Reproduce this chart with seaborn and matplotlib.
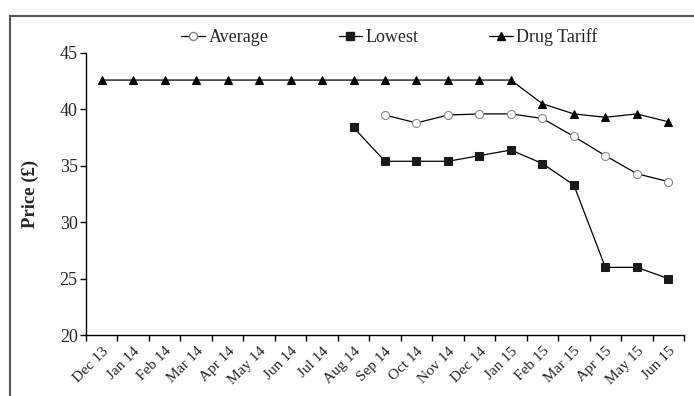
import numpy as np
import pandas as pd
import seaborn as sns
import matplotlib.pyplot as plt
from matplotlib.patches import Rectangle
from matplotlib.lines import Line2D

# Data
months = ["Dec 13", "Jan 14", "Feb 14", "Mar 14", "Apr 14", "May 14", "Jun 14",
          "Jul 14", "Aug 14", "Sep 14", "Oct 14", "Nov 14", "Dec 14", "Jan 15",
          "Feb 15", "Mar 15", "Apr 15", "May 15", "Jun 15"]
drug_tariff = [42.6] * 14 + [40.5, 39.6, 39.3, 39.6, 38.9]
average = [np.nan] * 9 + [39.5, 38.8, 39.5, 39.6, 39.6, 39.2, 37.6, 35.9, 34.3, 33.6]
lowest = [np.nan] * 8 + [38.4, 35.4, 35.4, 35.4, 35.9, 36.4, 35.2, 33.3, 26.0, 26.0, 25.0]

df = pd.DataFrame({"pos": np.arange(len(months)), "month": months,
                   "Drug Tariff": drug_tariff, "Average": average, "Lowest": lowest})

sns.set_style("ticks")
plt.rcParams["font.family"] = ["Liberation Serif", "DejaVu Serif"]

fig = plt.figure(figsize=(6.94, 3.96), dpi=100)
ax = fig.add_axes([86 / 694, 1 - 335 / 396, 598 / 694, 282 / 396])

# Outer frame (cropped at the right and bottom edges)
fig.patches.append(Rectangle((10 / 694, -0.1), 1.2, 1 - 16 / 396 + 0.1,
                             transform=fig.transFigure, fill=False,
                             edgecolor="#555555", linewidth=1.5))

sq_col = "#1a1a1a"
sns.lineplot(data=df, x="pos", y="Drug Tariff", ax=ax, color="black", lw=0.9,
             marker="^", markersize=6, markerfacecolor="black",
             markeredgecolor="black", sort=False)
sns.lineplot(data=df, x="pos", y="Average", ax=ax, color="black", lw=0.9,
             marker="o", markersize=5.8, markerfacecolor="white",
             markeredgecolor="#888888", markeredgewidth=0.8, sort=False)
sns.lineplot(data=df, x="pos", y="Lowest", ax=ax, color="black", lw=0.9,
             marker="s", markersize=5.6, markerfacecolor=sq_col,
             markeredgecolor=sq_col, sort=False)

ax.set_xlim(-0.5, len(months) - 0.5)
ax.set_ylim(20, 45)
ax.set_yticks([20, 25, 30, 35, 40, 45])
ax.set_xticks(df["pos"])
ax.set_xticklabels(months, rotation=45, ha="right", rotation_mode="anchor",
                   fontsize=11)
ax.set_xticks(np.arange(-0.5, len(months), 1), minor=True)
ax.tick_params(axis="x", which="major", length=0, pad=7)
ax.tick_params(axis="x", which="minor", length=4, width=1, direction="out", color="black")
ax.tick_params(axis="y", length=4, width=1, labelsize=13, color="black", pad=2)
ax.set_xlabel("")
ax.set_ylabel("Price (£)", fontweight="bold", fontsize=13.5, labelpad=15)
for side in ["top", "right"]:
    ax.spines[side].set_visible(False)
for side in ["left", "bottom"]:
    ax.spines[side].set_color("black")
    ax.spines[side].set_linewidth(1)

handles = [
    Line2D([], [], color="black", lw=0.9, marker="o", markersize=5.8,
           markerfacecolor="white", markeredgecolor="#888888"),
    Line2D([], [], color="black", lw=0.9, marker="s", markersize=5.6,
           markerfacecolor=sq_col, markeredgecolor=sq_col),
    Line2D([], [], color="black", lw=0.9, marker="^", markersize=6,
           markerfacecolor="black", markeredgecolor="black"),
]
fig.legend(handles, ["Average", "Lowest", "Drug Tariff"], ncol=3, frameon=False,
           loc="center", bbox_to_anchor=(389.5 / 694, 1 - 37 / 396),
           fontsize=13, handlelength=1.3, handletextpad=0.2, columnspacing=3.9)

fig.savefig("out.png", dpi=100)
